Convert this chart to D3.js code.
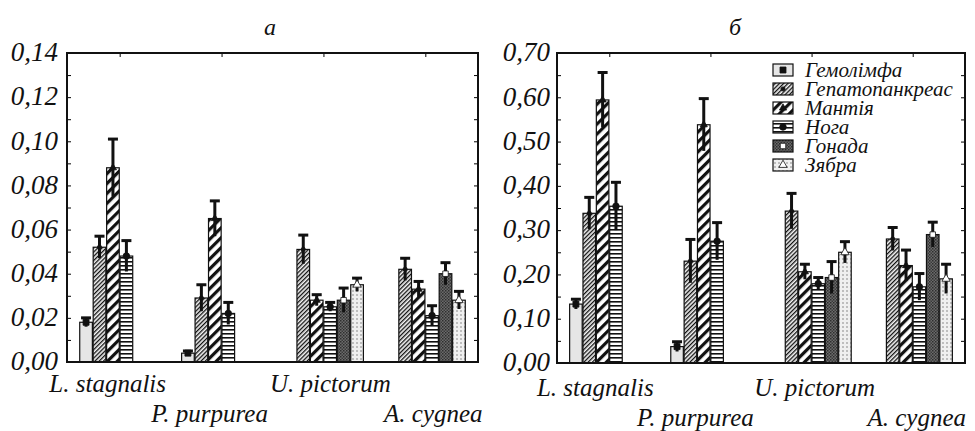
<!DOCTYPE html>
<html>
<head>
<meta charset="utf-8">
<script src="https://cdn.jsdelivr.net/npm/d3@7"></script>
<style>
  body { margin: 0; background: #fff; }
  #wrap { position: relative; width: 975px; height: 431px; overflow: hidden; }
  #chart { position: absolute; left: 0; top: 0; }
  #labels { position: absolute; left: 0; top: 0; width: 975px; height: 431px; }
  #labels span {
    position: absolute; white-space: nowrap; line-height: 1;
    font-family: 'Liberation Serif'; font-style: italic; color: #111;
  }
</style>
</head>
<body>
<div id="wrap">
  <svg id="chart" width="975" height="431"></svg>
  <div id="labels"></div>
</div>
<script>
// groups (species) and series (tissues)
const species = ["L. stagnalis", "P. purpurea", "U. pictorum", "A. cygnea"];
const tissues = ["Гемолімфа", "Гепатопанкреас", "Мантія", "Нога", "Гонада", "Зябра"];

// panel a: mean values and errors, rows = species, cols = tissues (null = not measured)
const meanA = [
    [0.018, 0.052, 0.088, 0.048, null, null],
    [0.004, 0.029, 0.065, 0.022, null, null],
    [null, 0.051, 0.028, 0.025, 0.028, 0.035],
    [null, 0.042, 0.033, 0.021, 0.040, 0.028]
];
const errA = [
    [0.002, 0.005, 0.013, 0.007, null, null],
    [0.001, 0.006, 0.008, 0.005, null, null],
    [null, 0.0065, 0.0025, 0.002, 0.0055, 0.003],
    [null, 0.005, 0.0035, 0.0045, 0.005, 0.004]
];

// panel б
const meanB = [
    [0.133, 0.338, 0.594, 0.354, null, null],
    [0.037, 0.230, 0.538, 0.275, null, null],
    [null, 0.343, 0.206, 0.179, 0.193, 0.250],
    [null, 0.280, 0.220, 0.172, 0.290, 0.190]
];
const errB = [
    [0.011, 0.036, 0.062, 0.054, null, null],
    [0.011, 0.049, 0.059, 0.042, null, null],
    [null, 0.040, 0.017, 0.014, 0.036, 0.024],
    [null, 0.026, 0.035, 0.030, 0.028, 0.033]
];

const ticksA = [0, 0.02, 0.04, 0.06, 0.08, 0.10, 0.12, 0.14];
const ticksB = [0, 0.10, 0.20, 0.30, 0.40, 0.50, 0.60, 0.70];

const svg = d3.select('#chart');
const labels = d3.select('#labels');
const defs = svg.append('defs');

// svg text here falls back to a sans face, so the texts are html spans over the svg.
// x is the anchor point, y the baseline (Liberation Serif baseline ~0.84em below the box top)
function htmlText(x, y, str, size, anchor) {
    const shift = anchor === 'end' ? '-100%' : anchor === 'middle' ? '-50%' : '0';
    return labels.append('span')
        .style('left', x + 'px')
        .style('top', (y - 0.84 * size) + 'px')
        .style('font-size', size + 'px')
        .style('transform', `translateX(${shift})`)
        .text(str);
}

// fill patterns for each tissue
function linePattern(id, size, lineW, angle, bg) {
    const p = defs.append('pattern')
        .attr('id', id)
        .attr('patternUnits', 'userSpaceOnUse')
        .attr('width', size).attr('height', size)
        .attr('patternTransform', `rotate(${angle})`);
    p.append('rect').attr('width', size).attr('height', size).attr('fill', bg);
    p.append('rect').attr('x', 0).attr('y', 0).attr('width', lineW).attr('height', size).attr('fill', '#111');
}
linePattern('p-hep', 3, 1.3, 45, '#f2f2f2');
linePattern('p-man', 7, 3.2, 45, '#fff');
linePattern('p-nog', 4, 1.6, 90, '#fff');

const gon = defs.append('pattern')
    .attr('id', 'p-gon').attr('patternUnits', 'userSpaceOnUse')
    .attr('width', 3).attr('height', 3);
gon.append('rect').attr('width', 3).attr('height', 3).attr('fill', '#6b6b6b');
gon.append('rect').attr('width', 1.5).attr('height', 1.5).attr('fill', '#2e2e2e');
gon.append('rect').attr('x', 1.5).attr('y', 1.5).attr('width', 1.5).attr('height', 1.5).attr('fill', '#3a3a3a');

const zya = defs.append('pattern')
    .attr('id', 'p-zya').attr('patternUnits', 'userSpaceOnUse')
    .attr('width', 4).attr('height', 4);
zya.append('rect').attr('width', 4).attr('height', 4).attr('fill', '#f0f0f0');
zya.append('circle').attr('cx', 2).attr('cy', 2).attr('r', 0.7).attr('fill', '#666');

const fills = ['#e6e6e6', 'url(#p-hep)', 'url(#p-man)', 'url(#p-nog)', 'url(#p-gon)', 'url(#p-zya)'];
// marker drawn at the mean of each bar
const markers = [
    {type: d3.symbolSquare, fill: '#111', size: 36},
    {type: d3.symbolCircle, fill: '#111', size: 14},
    {type: d3.symbolTriangle, fill: '#111', size: 22},
    {type: d3.symbolCircle, fill: '#111', size: 34},
    {type: d3.symbolSquare, fill: '#fff', size: 30},
    {type: d3.symbolTriangle, fill: '#fff', size: 30}
];

function drawPanel(cfg) {
    const g = svg.append('g').attr('transform', `translate(${cfg.left},${cfg.top})`);
    const w = cfg.width, h = cfg.height;

    const x0 = d3.scaleBand().domain(species).range([0, w])
        .paddingInner(0.2).paddingOuter(0.117);
    const x1 = d3.scaleBand().domain(tissues).range([0, x0.bandwidth()]).padding(0.06);
    const y = d3.scaleLinear().domain([0, cfg.max]).range([h, 0]);

    // minor and major ticks, pointing inward on both sides
    const minor = d3.range(0, cfg.max + cfg.minorStep / 2, cfg.minorStep);
    g.append('g').call(d3.axisRight(y).tickValues(minor).tickSize(4).tickFormat(''))
        .call(a => a.select('.domain').remove());
    g.append('g').attr('transform', `translate(${w},0)`)
        .call(d3.axisLeft(y).tickValues(minor).tickSize(4).tickFormat(''))
        .call(a => a.select('.domain').remove());
    const centers = d3.scalePoint().domain(species)
        .range([x0(species[0]) + x0.bandwidth() / 2, x0(species[3]) + x0.bandwidth() / 2]);
    g.append('g').call(d3.axisBottom(centers).tickSize(4).tickFormat(''))
        .call(a => a.select('.domain').remove());
    g.append('g').attr('transform', `translate(0,${h})`)
        .call(d3.axisTop(centers).tickSize(4).tickFormat(''))
        .call(a => a.select('.domain').remove());

    // y tick labels, right aligned next to the axis
    const fmt = d => d3.format('.2f')(d).replace('.', ',');
    cfg.ticks.forEach(t => {
        htmlText(cfg.left - cfg.labelPad, cfg.top + y(t) + 0.33 * 27, fmt(t), 27, 'end');
    });

    // bars
    const bars = [];
    species.forEach((s, i) => {
        tissues.forEach((t, j) => {
            if (cfg.mean[i][j] != null) {
                bars.push({s: s, t: t, j: j, v: cfg.mean[i][j], e: cfg.err[i][j]});
            }
        });
    });

    const bg = g.append('g');
    bg.selectAll('rect').data(bars).join('rect')
        .attr('x', d => x0(d.s) + x1(d.t))
        .attr('y', d => y(d.v))
        .attr('width', x1.bandwidth())
        .attr('height', d => h - y(d.v))
        .attr('fill', d => fills[d.j])
        .attr('stroke', '#111')
        .attr('stroke-width', 1.2);

    const cx = d => x0(d.s) + x1(d.t) + x1.bandwidth() / 2;
    bg.selectAll('line.whisker').data(bars).join('line')
        .attr('class', 'whisker')
        .attr('x1', cx).attr('x2', cx)
        .attr('y1', d => y(Math.max(0, d.v - d.e)))
        .attr('y2', d => y(d.v + d.e))
        .attr('stroke', '#111').attr('stroke-width', 3);
    bg.selectAll('line.cap').data(bars).join('line')
        .attr('class', 'cap')
        .attr('x1', d => cx(d) - 5).attr('x2', d => cx(d) + 5)
        .attr('y1', d => y(d.v + d.e)).attr('y2', d => y(d.v + d.e))
        .attr('stroke', '#111').attr('stroke-width', 3);
    bg.selectAll('path.mark').data(bars).join('path')
        .attr('class', 'mark')
        .attr('transform', d => `translate(${cx(d)},${y(d.v)})`)
        .attr('d', d => d3.symbol().type(markers[d.j].type).size(markers[d.j].size)())
        .attr('fill', d => markers[d.j].fill)
        .attr('stroke', '#111').attr('stroke-width', 0.8);

    // frame
    g.append('rect').attr('width', w).attr('height', h)
        .attr('fill', 'none').attr('stroke', '#111').attr('stroke-width', 2);

    // title
    htmlText(cfg.titleX, 35, cfg.title, 24, 'middle');

    // species labels, staggered in two rows
    species.forEach((s, i) => {
        htmlText(cfg.left + x0(s) + x0.bandwidth() / 2 + cfg.labelShift[i],
            i % 2 === 0 ? cfg.row1 : cfg.row2, s, 25, 'middle');
    });
}

drawPanel({
    left: 67, top: 53, width: 411, height: 309, max: 0.14, minorStep: 0.01,
    ticks: ticksA, mean: meanA, err: errA, labelPad: 9,
    title: 'a', titleX: 270, row1: 392, row2: 422, labelShift: [-12, -12, 7, 8]
});
drawPanel({
    left: 557, top: 53, width: 408, height: 310, max: 0.70, minorStep: 0.05,
    ticks: ticksB, mean: meanB, err: errB, labelPad: 7,
    title: 'б', titleX: 735, row1: 396, row2: 426, labelShift: [-14, -15, 3, 4]
});

// legend inside panel б
const legend = svg.append('g').attr('transform', 'translate(773,70)');
tissues.forEach((t, j) => {
    const row = legend.append('g').attr('transform', `translate(0,${j * 19})`);
    row.append('rect').attr('x', 0).attr('y', -6).attr('width', 20).attr('height', 12)
        .attr('fill', fills[j]).attr('stroke', '#111').attr('stroke-width', 1.2);
    row.append('path')
        .attr('transform', 'translate(10,0)')
        .attr('d', d3.symbol().type(markers[j].type).size(markers[j].size)())
        .attr('fill', markers[j].fill).attr('stroke', '#111').attr('stroke-width', 0.8);
    htmlText(805, 70 + j * 19 + 7, t, 21, 'start')
        .style('line-height', '18px')
        .style('top', (70 + j * 19 - 9) + 'px');
});
</script>
</body>
</html>
